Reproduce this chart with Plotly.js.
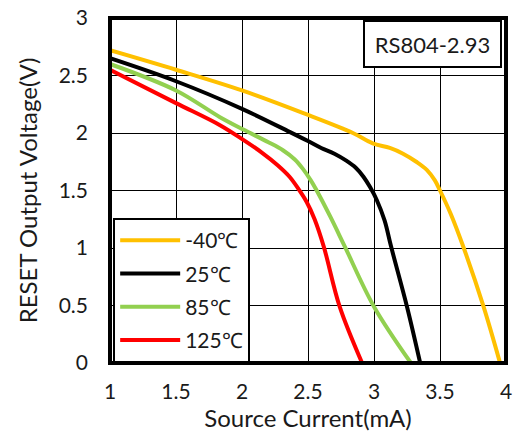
<!DOCTYPE html>
<html>
<head>
<meta charset="utf-8">
<script src="https://cdn.plot.ly/plotly-3.0.1.min.js"></script>
<style>html,body{margin:0;padding:0;background:#fff;}#chart{width:513px;height:432px;}</style>
</head>
<body>
<div id="chart"></div>
<script>
const seriesNames = ["-40℃", "25℃", "85℃", "125℃"];
const seriesColors = ["#FFC000", "#000000", "#92D050", "#FF0000"];

const xM40 = [1.0, 1.5, 2.0, 2.47, 2.84, 2.99, 3.12, 3.22, 3.32, 3.40, 3.46, 3.50, 3.58, 3.68, 3.83, 3.955];
const yM40 = [2.72, 2.55, 2.37, 2.17, 2.0, 1.91, 1.87, 1.82, 1.75, 1.68, 1.59, 1.50, 1.30, 1.00, 0.49, 0.0];

const x25 = [1.0, 1.5, 2.0, 2.36, 2.50, 2.60, 2.70, 2.79, 2.86, 2.92, 2.97, 3.02, 3.08, 3.13, 3.25, 3.35];
const y25 = [2.65, 2.45, 2.21, 2.01, 1.93, 1.87, 1.82, 1.76, 1.70, 1.62, 1.53, 1.42, 1.24, 1.01, 0.49, 0.0];

const x85 = [1.0, 1.5, 1.83, 2.01, 2.20, 2.31, 2.40, 2.46, 2.52, 2.58, 2.67, 2.78, 3.0, 3.28];
const y85 = [2.60, 2.37, 2.14, 2.03, 1.92, 1.85, 1.77, 1.69, 1.59, 1.47, 1.27, 1.01, 0.49, 0.0];

const x125 = [1.0, 1.5, 1.83, 2.01, 2.15, 2.27, 2.36, 2.43, 2.49, 2.55, 2.62, 2.74, 2.91];
const y125 = [2.55, 2.26, 2.07, 1.94, 1.83, 1.72, 1.62, 1.51, 1.40, 1.25, 1.01, 0.49, 0.0];

const xTicks = [1, 1.5, 2, 2.5, 3, 3.5, 4];
const yTicks = [0, 0.5, 1, 1.5, 2, 2.5, 3];
const xTitle = "Source Current(mA)";
const yTitle = "RESET Output Voltage(V)";
const boxLabel = "RS804-2.93";

const xs = [xM40, x25, x85, x125];
const ys = [yM40, y25, y85, y125];

const traces = seriesNames.map((n, i) => ({
  x: xs[i], y: ys[i], name: n, type: "scatter", mode: "lines",
  legendgroup: "g" + i,
  line: {color: seriesColors[i], width: 4, shape: "spline", smoothing: 1}
}));

const font = "Lato, 'Open Sans', sans-serif";

const layout = {
  width: 513, height: 432,
  margin: {l: 110, r: 7, t: 18, b: 69},
  paper_bgcolor: "#fff", plot_bgcolor: "#fff",
  font: {family: font, color: "#1a1a1a", size: 21},
  xaxis: {
    range: [1, 4], tickvals: xTicks, ticktext: xTicks.map(String),
    showgrid: true, gridcolor: "#000", gridwidth: 1, zeroline: false,
    ticks: "", ticklabelstandoff: 14, showline: false,
    tickfont: {size: 21, family: font, color: "#1a1a1a"},
    title: {text: xTitle, font: {size: 24, family: font, color: "#1a1a1a"}, standoff: 6}
  },
  yaxis: {
    range: [0, 3], tickvals: yTicks, ticktext: yTicks.map(String),
    showgrid: true, gridcolor: "#000", gridwidth: 1, zeroline: false,
    ticks: "", ticklabelstandoff: 21, showline: false,
    tickfont: {size: 21, family: font, color: "#1a1a1a"},
    title: {text: yTitle, font: {size: 24, family: font, color: "#1a1a1a"}, standoff: 14}
  },
  showlegend: true,
  legend: {
    x: 0.008, y: 0.0, xanchor: "left", yanchor: "bottom",
    bgcolor: "#fff", bordercolor: "#000", borderwidth: 2,
    font: {size: 21, family: font, color: "#1a1a1a"},
    tracegroupgap: 3, itemwidth: 60
  },
  shapes: [{
    type: "rect", xref: "paper", yref: "paper", x0: 0, x1: 1, y0: 0, y1: 1,
    line: {color: "#000", width: 4}, layer: "above"
  }],
  annotations: [{
    xref: "paper", yref: "paper", x: 0.99, y: 0.994, xanchor: "right", yanchor: "top",
    text: boxLabel, showarrow: false, align: "center",
    font: {size: 22, family: font, color: "#1a1a1a"},
    bgcolor: "#fff", bordercolor: "#000", borderwidth: 2,
    width: 133, height: 42
  }]
};

Plotly.newPlot("chart", traces, layout, {staticPlot: true, displayModeBar: false});
</script>
</body>
</html>
